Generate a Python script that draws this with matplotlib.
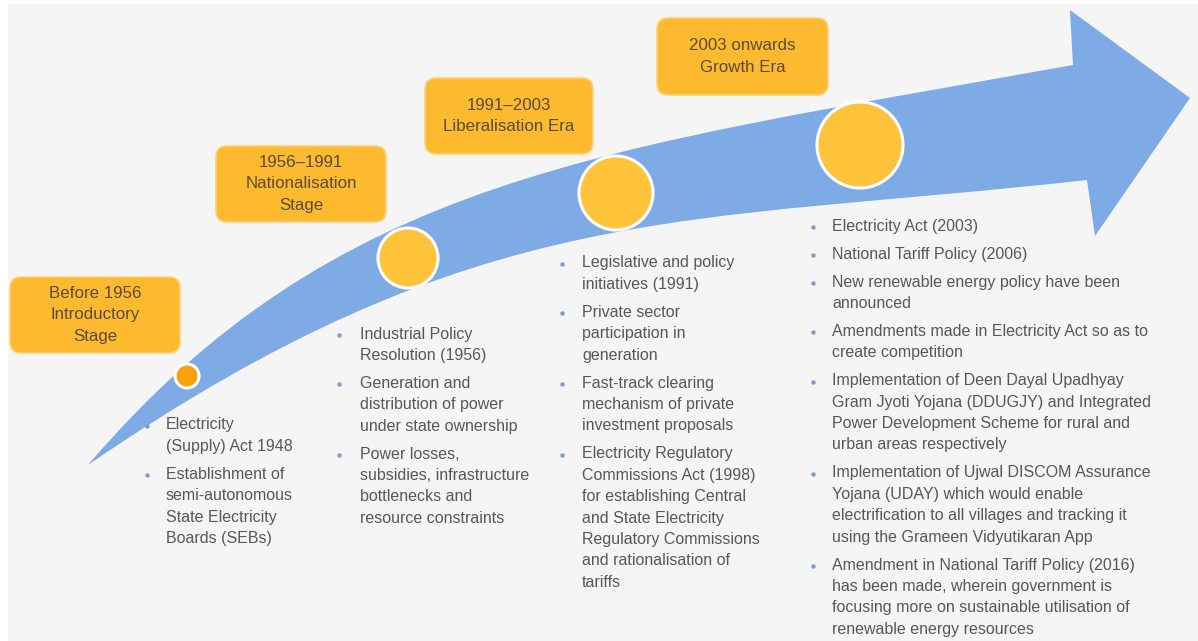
import matplotlib
matplotlib.use("Agg")
import matplotlib.pyplot as plt
from matplotlib.patches import FancyBboxPatch, Rectangle, Circle, PathPatch
from matplotlib.path import Path

# ---------------- content ----------------
stage_periods = ["Before 1956", "1956\u20131991", "1991\u20132003", "2003 onwards"]
stage_names = [["Introductory", "Stage"], ["Nationalisation", "Stage"],
               ["Liberalisation Era"], ["Growth Era"]]

bullets_stage1 = [
    ["Electricity", "(Supply) Act 1948"],
    ["Establishment of", "semi-autonomous", "State Electricity", "Boards (SEBs)"],
]
bullets_stage2 = [
    ["Industrial Policy", "Resolution (1956)"],
    ["Generation and", "distribution of power", "under state ownership"],
    ["Power losses,", "subsidies, infrastructure", "bottlenecks and", "resource constraints"],
]
bullets_stage3 = [
    ["Legislative and policy", "initiatives (1991)"],
    ["Private sector", "participation in", "generation"],
    ["Fast-track clearing", "mechanism of private", "investment proposals"],
    ["Electricity Regulatory", "Commissions Act (1998)", "for establishing Central",
     "and State Electricity", "Regulatory Commissions", "and rationalisation of", "tariffs"],
]
bullets_stage4 = [
    ["Electricity Act (2003)"],
    ["National Tariff Policy (2006)"],
    ["New renewable energy policy have been", "announced"],
    ["Amendments made in Electricity Act so as to", "create competition"],
    ["Implementation of Deen Dayal Upadhyay", "Gram Jyoti Yojana (DDUGJY) and Integrated",
     "Power Development Scheme for rural and", "urban areas respectively"],
    ["Implementation of Ujwal DISCOM Assurance", "Yojana (UDAY) which would enable",
     "electrification to all villages and tracking it", "using the Grameen Vidyutikaran App"],
    ["Amendment in National Tariff Policy (2016)", "has been made, wherein government is",
     "focusing more on sustainable utilisation of", "renewable energy resources"],
]
stage_bullets = [bullets_stage1, bullets_stage2, bullets_stage3, bullets_stage4]

# ---------------- layout / style ----------------
W, H = 1198, 641
FONT = "Liberation Sans"
BG = "#f5f5f5"
ARROW = "#7eaae6"
BOX = "#fdba2f"
BOX_TXT = "#5a4c34"
TXT = "#575757"
BUL = "#7d9dc9"
CIRC = "#fec23b"
CIRC1 = "#f7a20d"

box_rects = [(10, 277, 170, 76), (216, 146, 170, 76), (425, 78, 168, 76), (657, 18, 171, 77)]
circles = [(187, 376, 12), (408, 258, 30), (616, 193, 37), (860, 145, 43)]
cols = [(147, 166, 425), (339, 360, 334), (562, 582, 263), (813, 832, 226)]
LINE_H = 21.4
GAP = 6.6

fig = plt.figure(figsize=(W / 100, H / 100), dpi=100)
ax = fig.add_axes([0, 0, 1, 1])
ax.set_xlim(0, W)
ax.set_ylim(H, 0)
ax.axis("off")

fig.patch.set_facecolor("white")
ax.add_patch(Rectangle((8, 4), W, H, facecolor=BG, edgecolor="none", zorder=0))

# curved arrow
verts = [(88, 465),
         (335, 176), (600, 150), (1073, 65),
         (1070, 10), (1190, 98), (1095, 236), (1087, 180),
         (687, 225), (480, 196), (88, 465),
         (88, 465)]
codes = [Path.MOVETO,
         Path.CURVE4, Path.CURVE4, Path.CURVE4,
         Path.LINETO, Path.LINETO, Path.LINETO, Path.LINETO,
         Path.CURVE4, Path.CURVE4, Path.CURVE4,
         Path.CLOSEPOLY]
ax.add_patch(PathPatch(Path(verts, codes), facecolor=ARROW, edgecolor="none", zorder=1))

# circles
for i, (cx, cy, r) in enumerate(circles):
    ax.add_patch(Circle((cx, cy), r, facecolor=CIRC1 if i == 0 else CIRC,
                        edgecolor="white", lw=2.2, zorder=3))

# stage boxes
for (x, y, w, h), period, names in zip(box_rects, stage_periods, stage_names):
    ax.add_patch(FancyBboxPatch((x, y), w, h, boxstyle="round,pad=0,rounding_size=11",
                                facecolor=BOX, edgecolor="#fcd27a", lw=1.2, zorder=2))
    lines = [period] + names
    n = len(lines)
    cy = y + h / 2
    for k, ln in enumerate(lines):
        ty = cy + (k - (n - 1) / 2) * 21.3
        ax.text(x + w / 2, ty, ln, ha="center", va="center", fontsize=12.2,
                family=FONT, color=BOX_TXT, zorder=4)

# bullet lists
for (bx, tx, y0), items in zip(cols, stage_bullets):
    y = y0
    for item in items:
        ax.plot([bx], [y + 1], marker="o", markersize=3.2, color=BUL,
                markeredgewidth=0, zorder=4)
        for ln in item:
            ax.text(tx, y, ln, ha="left", va="center", fontsize=11.5,
                    family=FONT, color=TXT, zorder=4)
            y += LINE_H
        y += GAP

fig.savefig("out.png", dpi=100, facecolor="white")
